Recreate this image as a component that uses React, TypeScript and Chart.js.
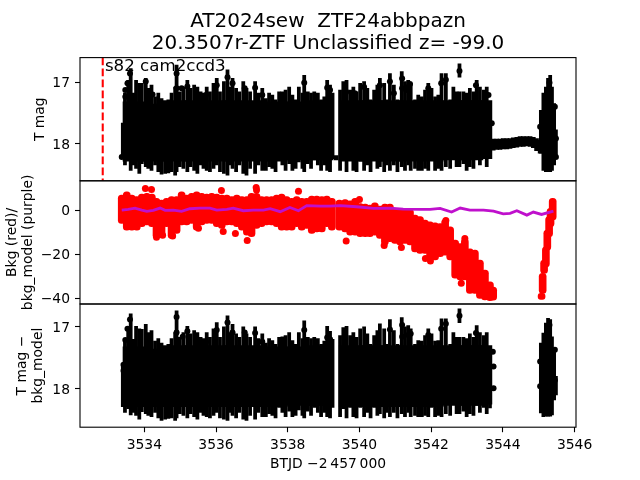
import React, { useEffect, useRef } from "react";
import { Chart, registerables } from "chart.js";

Chart.register(...registerables);

const titleLines = ["AT2024sew  ZTF24abbpazn", "20.3507r-ZTF Unclassified z= -99.0"];
const sectorLabel = "s82 cam2ccd3";
const sectorLabelTime = 3532.9;
const sectorLabelMag = 16.82;
const markerTime = 3532.84;
const xTitle = "BTJD \u22122\u2009457\u2009000";

const columnTimes = [
  3533.4, 3533.46, 3533.55, 3533.62, 3533.69, 3533.77, 3533.86, 3533.93, 3534.04, 3534.11, 3534.2, 3534.3, 3534.39,
  3534.48, 3534.58, 3534.67, 3534.76, 3534.86, 3534.9, 3534.99, 3535.09, 3535.2, 3535.29, 3535.39, 3535.48, 3535.57,
  3535.65, 3535.74, 3535.83, 3535.93, 3536.02, 3536.11, 3536.22, 3536.32, 3536.39, 3536.46, 3536.56, 3536.65, 3536.76,
  3536.85, 3536.95, 3537.09, 3537.18, 3537.29, 3537.39, 3537.48, 3537.57, 3537.66, 3537.76, 3537.85, 3537.94, 3538.04,
  3538.13, 3538.22, 3538.31, 3538.41, 3538.46, 3538.56, 3538.65, 3538.74, 3538.84, 3538.93, 3539.02, 3539.1, 3539.18,
  3539.25,
  3539.46, 3539.55, 3539.64, 3539.74, 3539.83, 3539.92, 3540.02, 3540.13, 3540.22, 3540.31, 3540.41, 3540.5, 3540.57,
  3540.69, 3540.76, 3540.85, 3540.96, 3541.06, 3541.18, 3541.27, 3541.36, 3541.43, 3541.55, 3541.64, 3541.74, 3541.83,
  3541.92, 3542.01, 3542.11, 3542.2, 3542.29, 3542.41, 3542.53, 3542.62, 3542.71, 3542.79, 3542.9, 3542.99, 3543.08,
  3543.18, 3543.27, 3543.36, 3543.47, 3543.55, 3543.64,
  3542.79,
  3545.06, 3545.13, 3545.2, 3545.26, 3545.32, 3545.37, 3545.43, 3545.48,
];

const magTop = [
  17.67, 17.18, 16.97, 16.78, 17.18, 16.97, 17.02, 17.02, 16.94, 17.1, 17.05, 17.24, 17.18,
  17.27, 17.4, 17.29, 17.18, 17.08, 16.72, 17.16, 17.08, 16.97, 17.1, 17.05, 17.08, 17.16,
  17.18, 17.08, 17.16, 17.02, 16.94, 17.16, 16.99, 16.8, 17.08, 16.94, 17.1, 17.16, 16.99,
  17.1, 17.16, 16.99, 17.18, 17.1, 17.27, 17.18, 17.21, 17.29, 17.16, 17.16, 17.13, 17.08,
  17.21, 17.29, 17.08, 17.18, 16.89, 17.16, 17.18, 17.16, 17.18, 17.29, 17.24, 16.97, 17.05,
  17.18,
  17.13, 16.99, 16.97, 17.13, 17.08, 17.16, 17.02, 16.99, 17.1, 17.29, 17.13, 17.05, 16.94,
  17.02, 17.29, 16.86, 17.05, 17.29, 16.83, 16.99, 16.97, 17.02, 17.29, 17.21, 17.24, 17.13,
  17.02, 17.1, 17.24, 17.21, 16.86, 16.86, 17.29, 17.08, 17.16, 17.16, 17.16, 17.18, 17.1,
  17.16, 16.97, 17.08, 17.13, 17.08, 17.4,
  16.7,
  17.46, 17.18, 17.08, 16.94, 16.89, 17.08, 17.35, 17.78,
];

const magBottom = [
  18.22, 18.35, 18.27, 18.44, 18.35, 18.41, 18.49, 18.33, 18.38, 18.41, 18.44, 18.35, 18.46,
  18.5, 18.49, 18.48, 18.46, 18.52, 18.46, 18.38, 18.41, 18.46, 18.38, 18.44, 18.49, 18.35,
  18.41, 18.44, 18.46, 18.41, 18.35, 18.46, 18.49, 18.52, 18.35, 18.41, 18.46, 18.35, 18.49,
  18.52, 18.41, 18.49, 18.35, 18.44, 18.44, 18.38, 18.41, 18.46, 18.25, 18.35, 18.44, 18.33,
  18.44, 18.41, 18.3, 18.41, 18.46, 18.33, 18.41, 18.25, 18.35, 18.44, 18.35, 18.44, 18.46,
  18.25,
  18.44, 18.27, 18.46, 18.25, 18.44, 18.46, 18.25, 18.44, 18.35, 18.46, 18.25, 18.41, 18.38,
  18.46, 18.35, 18.44, 18.35, 18.46, 18.38, 18.44, 18.35, 18.44, 18.41, 18.44, 18.44, 18.41,
  18.44, 18.25, 18.44, 18.41, 18.44, 18.38, 18.41, 18.19, 18.38, 18.38, 18.33, 18.44, 18.38,
  18.41, 18.22, 18.35, 18.25, 18.38, 18.14,
  16.92,
  18.16, 18.44, 18.46, 18.46, 18.46, 18.44, 18.35, 18.22,
];

const coreTimes = [
  3533.74, 3534.3, 3534.86, 3535.41, 3535.97, 3536.53, 3537.09, 3537.65, 3538.2, 3538.76, 3538.93,
  3539.77, 3540.32, 3540.88, 3541.44, 3542.0, 3542.55, 3543.11, 3543.36,
];
const coreTop = [17.32, 17.36, 17.3, 17.3, 17.3, 17.3, 17.3, 17.32, 17.32, 17.3, 17.32, 17.3, 17.3, 17.3, 17.3, 17.3, 17.3, 17.3, 17.3];
const coreBottom = [18.29, 18.29, 18.29, 18.29, 18.29, 18.29, 18.29, 18.29, 18.27, 18.27, 18.27, 18.29, 18.29, 18.29, 18.29, 18.29, 18.27, 18.27, 18.25];

const bandTimes = [
  3539.35, 3543.73, 3543.83, 3543.92, 3544.01, 3544.11, 3544.2, 3544.29, 3544.39, 3544.48, 3544.57, 3544.67, 3544.76,
  3544.85, 3544.94, 3545.04,
];
const bandTop = [18.2, 17.93, 17.93, 17.93, 17.92, 17.92, 17.92, 17.91, 17.9, 17.89, 17.89, 17.89, 17.89, 17.9, 17.92, 17.95];
const bandBottom = [18.27, 18.11, 18.1, 18.1, 18.09, 18.09, 18.08, 18.07, 18.06, 18.05, 18.05, 18.04, 18.05, 18.07, 18.12, 18.16];

const dotTimes = [
  3533.6, 3533.53, 3533.47, 3533.47, 3534.9, 3535.2, 3534.9, 3535.04, 3535.72, 3536.02, 3536.32, 3536.46, 3536.8,
  3537.09, 3537.29, 3538.46, 3539.1, 3539.18, 3534.23, 3534.04, 3540.85, 3541.19, 3541.19, 3541.36, 3541.41, 3541.3,
  3542.28, 3542.41, 3542.79, 3543.25, 3541.92, 3540.96, 3540.57, 3540.13, 3539.63, 3539.87, 3545.3, 3545.45, 3545.48,
  3545.48, 3545.04, 3543.6, 3543.69, 3533.37,
];
const dotMags = [
  16.86, 17.02, 17.13, 17.24, 16.86, 17.07, 17.1, 17.1, 17.21, 17.05, 16.92, 17.02, 17.1,
  17.09, 17.21, 17.01, 17.09, 17.13, 17.2, 16.99, 16.99, 16.94, 17.1, 17.08, 17.03, 17.13,
  17.02, 16.96, 16.82, 17.05, 17.1, 17.18, 17.05, 17.08, 17.16, 17.18, 17.01, 17.4, 17.92,
  18.22, 17.73, 17.21, 17.67, 18.22,
];

const detrendedTop = [
  17.59, 17.2, 17.0, 16.79, 17.2, 16.99, 17.03, 17.04, 16.96, 17.09, 17.06, 17.23, 17.19,
  17.26, 17.38, 17.28, 17.19, 17.09, 16.74, 17.17, 17.09, 16.99, 17.11, 17.06, 17.09, 17.17,
  17.19, 17.09, 17.17, 17.03, 16.93, 17.17, 17.0, 16.82, 17.09, 16.96, 17.11, 17.17, 17.0,
  17.11, 17.17, 17.0, 17.19, 17.11, 17.26, 17.19, 17.22, 17.28, 17.17, 17.16, 17.14, 17.09,
  17.22, 17.28, 17.09, 17.19, 16.9, 17.17, 17.19, 17.17, 17.19, 17.28, 17.23, 16.99, 17.07,
  17.2,
  17.14, 17.01, 16.99, 17.14, 17.09, 17.17, 17.03, 17.0, 17.11, 17.28, 17.14, 17.06, 16.95,
  17.03, 17.28, 16.88, 17.06, 17.28, 16.85, 17.0, 16.98, 17.03, 17.28, 17.22, 17.23, 17.14,
  17.03, 17.11, 17.23, 17.22, 16.87, 16.87, 17.28, 17.09, 17.17, 17.17, 17.17, 17.19, 17.11,
  17.17, 16.98, 17.09, 17.14, 17.09, 17.37,
  16.71,
  17.26, 17.1, 16.94, 16.86, 16.88, 17.16, 17.37, 17.8,
];

const detrendedBottom = [
  18.29, 18.38, 18.32, 18.42, 18.38, 18.43, 18.49, 18.37, 18.4, 18.43, 18.45, 18.38, 18.47,
  18.51, 18.49, 18.48, 18.47, 18.51, 18.47, 18.4, 18.43, 18.47, 18.4, 18.45, 18.49, 18.38,
  18.43, 18.45, 18.47, 18.43, 18.38, 18.47, 18.49, 18.51, 18.38, 18.43, 18.47, 18.38, 18.49,
  18.51, 18.43, 18.49, 18.38, 18.45, 18.45, 18.4, 18.43, 18.47, 18.3, 18.38, 18.45, 18.36,
  18.45, 18.43, 18.34, 18.43, 18.47, 18.36, 18.43, 18.3, 18.38, 18.45, 18.38, 18.45, 18.47,
  18.3,
  18.45, 18.32, 18.47, 18.3, 18.45, 18.47, 18.3, 18.45, 18.38, 18.47, 18.3, 18.43, 18.4,
  18.47, 18.38, 18.45, 18.38, 18.47, 18.4, 18.45, 18.38, 18.45, 18.43, 18.45, 18.45, 18.43,
  18.45, 18.3, 18.45, 18.43, 18.45, 18.4, 18.43, 18.25, 18.4, 18.4, 18.36, 18.45, 18.4,
  18.43, 18.27, 18.38, 18.3, 18.4, 18.31,
  16.93,
  18.39, 18.45, 18.44, 18.44, 18.44, 18.42, 18.18, 18.1,
];

const detrendedDotTimes = [
  3533.6, 3533.53, 3533.47, 3534.9, 3535.2, 3534.9, 3535.07, 3535.72, 3536.02, 3536.32, 3536.46, 3536.8, 3537.09,
  3537.29, 3538.46, 3539.1, 3539.18, 3533.42, 3533.42, 3540.85, 3541.19, 3541.19, 3541.36, 3541.43, 3542.28, 3542.41,
  3542.79, 3543.25, 3541.92, 3545.3, 3543.72, 3543.74, 3543.74, 3545.45, 3545.45, 3545.04, 3545.04,
];
const detrendedDotMags = [
  16.88, 17.03, 17.21, 16.84, 17.07, 17.09, 17.16, 17.24, 17.05, 16.93, 17.09, 17.09, 17.1,
  17.24, 17.05, 17.17, 17.2, 17.61, 17.71, 17.04, 16.97, 17.16, 17.13, 17.11, 17.03, 16.95,
  16.82, 17.1, 17.13, 16.97, 17.4, 17.64, 17.99, 17.37, 17.86, 17.56, 17.96,
];

const bkgTimes = [
  3533.37, 3533.51, 3533.65, 3533.79, 3533.93, 3534.07, 3534.21, 3534.34, 3534.48, 3534.62, 3534.76, 3534.9, 3535.04,
  3535.18, 3535.32, 3535.46, 3535.6, 3535.74, 3535.88, 3536.02, 3536.16, 3536.3, 3536.44, 3536.58, 3536.72, 3536.86,
  3536.99, 3537.13, 3537.27, 3537.41, 3537.55, 3537.69, 3537.83, 3537.97, 3538.11, 3538.25, 3538.39, 3538.53, 3538.67,
  3538.81, 3538.95, 3539.09, 3539.23, 3539.44, 3539.6, 3539.74, 3539.88, 3540.02, 3540.16, 3540.29, 3540.43, 3540.57,
  3540.71, 3540.85, 3540.99, 3541.13, 3541.27, 3541.41, 3541.55, 3541.69, 3541.83, 3541.97, 3542.11, 3542.25, 3542.39,
  3542.53, 3542.67, 3542.81, 3542.94, 3543.08, 3543.22, 3543.36, 3543.5, 3543.64, 3543.73, 3545.08, 3545.11, 3545.15,
  3545.2, 3545.24, 3545.29, 3545.33, 3545.39,
];
const bkgHigh = [
  6.8, 8.3, 6.8, 6.1, 7.3, 7.6, 7.3, 5.3, 4.5, 5.3, 6.1, 6.1, 8.3,
  6.8, 7.6, 8.3, 7.6, 7.3, 7.6, 7.3, 6.8, 6.8, 6.1, 6.8, 6.1, 6.1,
  7.6, 7.6, 6.1, 6.1, 6.1, 6.8, 7.3, 6.1, 5.3, 6.1, 5.3, 5.3, 6.4,
  6.4, 6.1, 6.4, 5.3, 4.5, 4.8, 4.2, 5.3, 3.0, 2.7, 2.3, 3.3, 1.8,
  2.7, 2.7, 0.8, 0.8, 0.3, 0.3, -2.3, -3, -4.5, -5.3, -5.8, -6.1, -4.2,
  -7.6, -13.6, -15.2, -13, -17.6, -18.2, -22.7, -27.3, -32.6, -35, -37.9, -28.8, -22.7,
  -16.7, -9.1, -3, 0.8, 5.3,
];
const bkgLow = [
  -6.1, -9.1, -9.1, -9.1, -7.6, -6.8, -7.6, -12.9, -12.1, -7.6, -12.9, -10.6, -6.8,
  -6.8, -6.1, -9.1, -6.8, -6.1, -6.1, -7.6, -8.3, -6.8, -6.8, -7.6, -9.1, -11.4,
  -12.1, -8.3, -7.6, -6.8, -6.8, -7.6, -9.1, -9.1, -9.1, -7.6, -9.1, -8.3, -10.6,
  -9.9, -9.9, -7.6, -9.1, -9.1, -9.9, -11.4, -11.4, -12.1, -12.1, -12.1, -11.4, -12.9,
  -15.9, -14.4, -15.2, -15.9, -15.2, -15.9, -19, -19.7, -19.7, -22.7, -22.7, -21.2, -20.5,
  -22.7, -31, -31.8, -31.8, -37.9, -37.9, -40.2, -40.9, -41.2, -41, -40.6, -37.9, -28.8,
  -25.8, -18.2, -12.1, -7.6, -4.5,
];
const bkgDotTimes = [
  3534.03, 3534.2, 3536.15, 3537.12, 3537.13, 3538.3, 3536.87, 3536.2, 3536.54, 3535.51, 3534.34, 3534.79, 3534.51,
  3539.63, 3540.69, 3541.17, 3541.84, 3541.98, 3542.84, 3542.94, 3542.41, 3540.0,
];
const bkgDotValues = [
  9.8, 9.4, 8.9, 10.3, 9.1, 8.5, -13.8, -9.7, -10.6, -8.3, -12.4, -11.8, -11.5,
  -14.1, -16.1, -17, -22, -23.2, -33.3, -12.9, -4.8, 4.8,
];

const modelTimes = [
  3533.37, 3533.55, 3533.74, 3533.93, 3534.07, 3534.25, 3534.44, 3534.58, 3534.81, 3535.04, 3535.27, 3535.55, 3535.83,
  3536.02, 3536.3, 3536.48, 3536.76, 3537.04, 3537.32, 3537.51, 3537.79, 3538.06, 3538.3, 3538.53, 3538.9, 3539.18,
  3539.46, 3539.92, 3540.39, 3540.85, 3541.22, 3541.69, 3541.97, 3542.25, 3542.57, 3542.81, 3543.08, 3543.46, 3543.74,
  3544.01, 3544.2, 3544.39, 3544.67, 3544.85, 3545.08, 3545.41,
];
const modelValues = [
  0, 0.3, 0.9, 0, -0.6, -0.15, 0.9, -0.15, 0, -0.6, 0.6, 0.9, 0.9,
  0, 0.3, 0.9, -0.3, 0, 0, 0.6, -0.75, 1.2, -0.3, 2, 1.8, 1.8,
  2, 1.5, 0.75, 0.9, 0.45, 0.3, 0.3, 0.75, -0.9, 0.9, 0, 0, -0.45,
  -1.7, -1.5, -0.3, -2.3, -0.9, -2, -0.45,
];

const FONT = "'DejaVu Sans'";
const PANELS = ["yMag", "yBkg", "yDetrended"];

const zip2 = (xs: number[], ys: number[]) => xs.map((x, i) => ({ x, y: ys[i] }));
const bars = (xs: number[], a: number[], b: number[]) => xs.map((x, i) => ({ x, y: [a[i], b[i]] }));

const framePlugin = {
  id: "frame",
  afterDatasetsDraw(chart: any) {
    const { ctx, chartArea, scales } = chart;
    ctx.save();
    ctx.strokeStyle = "#000";
    ctx.lineWidth = 1.1;
    for (const id of PANELS) {
      const s = scales[id];
      ctx.strokeRect(chartArea.left, s.top, chartArea.right - chartArea.left, s.bottom - s.top);
    }
    ctx.fillStyle = "#000";
    ctx.font = `16.67px ${FONT}`;
    ctx.textAlign = "left";
    ctx.textBaseline = "alphabetic";
    ctx.fillText(sectorLabel, scales.x.getPixelForValue(sectorLabelTime), scales.yMag.getPixelForValue(sectorLabelMag));
    ctx.restore();
  },
};

const fixWidth = (s: any) => {
  s.width = 80;
};

const yAxis = (
  title: string | string[],
  min: number,
  max: number,
  step: number,
  reverse: boolean,
  weight: number,
  titlePad: number
) => ({
  type: "linear",
  position: "left",
  stack: "panels",
  stackWeight: 1,
  weight,
  min,
  max,
  reverse,
  afterFit: fixWidth,
  border: { display: false },
  grid: { drawOnChartArea: false, drawTicks: true, tickLength: 5, tickColor: "#000", tickWidth: 1.1 },
  ticks: {
    stepSize: step,
    includeBounds: false,
    color: "#000",
    padding: 5,
    labelOffset: 1.5,
    font: { size: 13.89, family: FONT },
    callback: (v: number) => String(v).replace("-", "\u2212"),
  },
  title: {
    display: true,
    text: title,
    color: "#000",
    font: { size: 13.89, family: FONT, lineHeight: 1.15 },
    padding: { top: titlePad, bottom: 0 },
  },
});

export default function App() {
  const ref = useRef<HTMLCanvasElement>(null);
  useEffect(() => {
    const barCommon = { type: "bar", grouped: false, backgroundColor: "#000", barThickness: 3.1, borderWidth: 0, xAxisID: "x" };
    const coreCommon = { ...barCommon, barThickness: 24, order: 4 };
    const dotCommon = { type: "scatter", showLine: false, pointRadius: 3, pointBorderWidth: 0, xAxisID: "x" };
    const chart = new Chart(ref.current!, {
      type: "bar",
      data: {
        datasets: [
          { ...coreCommon, yAxisID: "yMag", data: bars(coreTimes, coreTop, coreBottom) },
          { ...barCommon, order: 3, yAxisID: "yMag", data: bars(columnTimes, magTop, magBottom) },
          { ...barCommon, barThickness: 4, order: 3, yAxisID: "yMag", data: bars(bandTimes, bandTop, bandBottom) },
          { ...dotCommon, order: 2, yAxisID: "yMag", pointBackgroundColor: "#000", data: zip2(dotTimes, dotMags) },
          {
            type: "line",
            order: 1,
            xAxisID: "x",
            yAxisID: "yMag",
            borderColor: "#ff0000",
            borderWidth: 2.08,
            borderDash: [7.7, 3.3],
            pointRadius: 0,
            data: [
              { x: markerTime, y: 16.6 },
              { x: markerTime, y: 18.62 },
            ],
          },
          {
            ...barCommon,
            order: 3,
            yAxisID: "yBkg",
            backgroundColor: "#ff0000",
            barThickness: 7,
            borderRadius: 3.5,
            borderSkipped: false,
            data: bars(bkgTimes, bkgHigh, bkgLow),
          },
          {
            ...dotCommon,
            order: 2,
            yAxisID: "yBkg",
            pointRadius: 3.5,
            pointBackgroundColor: "#ff0000",
            data: zip2(bkgDotTimes, bkgDotValues),
          },
          {
            type: "line",
            order: 1,
            xAxisID: "x",
            yAxisID: "yBkg",
            borderColor: "#bf10cc",
            borderWidth: 2.8,
            pointRadius: 0,
            tension: 0,
            data: zip2(modelTimes, modelValues),
          },
          { ...coreCommon, yAxisID: "yDetrended", data: bars(coreTimes, coreTop, coreBottom) },
          { ...barCommon, order: 3, yAxisID: "yDetrended", data: bars(columnTimes, detrendedTop, detrendedBottom) },
          {
            ...dotCommon,
            order: 2,
            yAxisID: "yDetrended",
            pointBackgroundColor: "#000",
            data: zip2(detrendedDotTimes, detrendedDotMags),
          },
        ] as any,
      },
      options: {
        animation: false,
        responsive: false,
        layout: { padding: { left: 0, right: 64, top: 0, bottom: 0 } },
        plugins: {
          legend: { display: false },
          tooltip: { enabled: false },
          title: {
            display: true,
            text: titleLines,
            fullSize: false,
            color: "#000",
            font: { size: 20, family: FONT, weight: "normal", lineHeight: 1.1 },
            padding: { top: 11, bottom: 2.6 },
          },
        },
        scales: {
          x: {
            type: "linear",
            position: "bottom",
            min: 3532.206,
            max: 3546.04,
            offset: false,
            afterFit: (s: any) => {
              s.height = 52.8;
            },
            border: { display: false },
            grid: { drawOnChartArea: false, drawTicks: true, offset: false, tickLength: 5, tickColor: "#000", tickWidth: 1.1 },
            ticks: {
              stepSize: 2,
              includeBounds: false,
              color: "#000",
              padding: 5,
              maxRotation: 0,
              autoSkip: false,
              font: { size: 13.89, family: FONT },
              callback: (v: number) => String(v),
            },
            title: {
              display: true,
              text: xTitle,
              color: "#000",
              font: { size: 13.89, family: FONT, lineHeight: 1.15 },
              padding: { top: 0, bottom: 8 },
            },
          },
          yMag: yAxis("T mag", 16.6, 18.61, 1, true, 3, 32),
          yBkg: yAxis(["Bkg (red)/", "bkg_model (purple)"], -42.7, 13.3, 20, false, 2, 4),
          yDetrended: yAxis(["T mag \u2212", "bkg_model"], 16.63, 18.62, 1, true, 1, 14),
        } as any,
      },
      plugins: [framePlugin],
    } as any);
    return () => chart.destroy();
  }, []);
  return (
    <canvas
      ref={ref}
      width={640}
      height={480}
      style={{ position: "absolute", left: 0, top: 0, width: 640, height: 480, background: "#fff" }}
    />
  );
}
